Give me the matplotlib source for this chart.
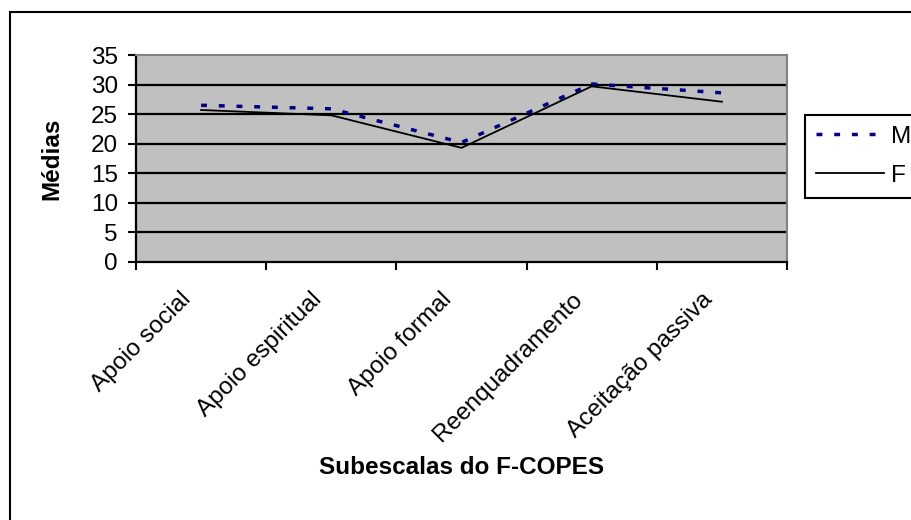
import matplotlib.pyplot as plt
from matplotlib.patches import Rectangle

categorias = ['Apoio social', 'Apoio espiritual', 'Apoio formal',
              'Reenquadramento', 'Aceitação passiva']
medias_m = [26.5, 25.9, 20.2, 30.1, 28.6]
medias_f = [25.7, 24.8, 19.3, 29.7, 27.1]

plt.rcParams['font.family'] = ['Liberation Sans', 'DejaVu Sans']
plt.rcParams['font.size'] = 17.5

fig = plt.figure(figsize=(9.12, 5.2), dpi=100)
ax = fig.add_axes([136/912, 1 - 262/520, (787 - 136)/912, (262 - 55)/520])
ax.set_facecolor('#C0C0C0')

x = list(range(len(categorias)))
ax.plot(x, medias_m, color='#000080', lw=2.5, dashes=(1.7, 3.4), label='M', zorder=3)
ax.plot(x, medias_f, color='black', lw=1.3, label='F', zorder=4)

ax.set_xlim(-0.5, len(categorias) - 0.5)
ax.set_ylim(0, 35)
ax.set_yticks(range(0, 36, 5))
for v in range(5, 35, 5):
    ax.axhline(v, color='black', lw=1.6, zorder=1)

# ticks between categories, labels rotated under each category
ax.set_xticks([i - 0.5 for i in range(len(categorias) + 1)])
ax.set_xticklabels([])
for i, cat in zip(x, categorias):
    ax.annotate(cat, xy=(i, 0), xycoords=('data', 'axes fraction'),
                xytext=(-15, -19), textcoords='offset points',
                rotation=45, ha='right', va='top', rotation_mode='anchor')
ax.tick_params(axis='x', length=6, width=1.5, direction='out')
ax.tick_params(axis='y', length=6, width=1.5, direction='out', pad=7)

for s in ['top', 'right']:
    ax.spines[s].set_color('#808080')
    ax.spines[s].set_linewidth(1.5)
for s in ['left', 'bottom']:
    ax.spines[s].set_color('black')
    ax.spines[s].set_linewidth(1.6)

ax.set_ylabel('Médias', fontweight='bold', labelpad=20)
fig.text(462/912, 1 - 467/520, 'Subescalas do F-COPES', fontweight='bold',
         ha='center', va='center')

leg = fig.legend(loc='upper left', bbox_to_anchor=(805/912, 1 - 115/520),
                 borderaxespad=0, frameon=True, fancybox=False, edgecolor='black',
                 framealpha=1, handlelength=2.8, handletextpad=0.3,
                 labelspacing=0.7, borderpad=0.45)
leg.get_frame().set_linewidth(1.5)

fig.patches.append(Rectangle((10/912, -0.2), 1.2, (520 - 12)/520 + 0.2,
                             transform=fig.transFigure, fill=False,
                             edgecolor='black', lw=1.5))

fig.savefig('out.png', dpi=100)
